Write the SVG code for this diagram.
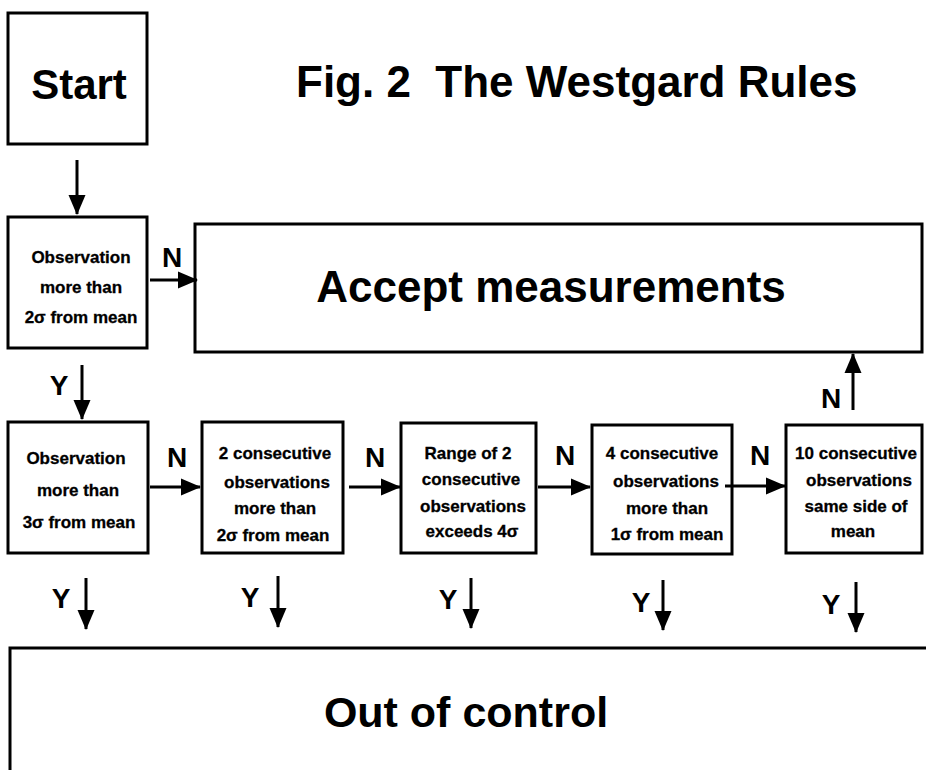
<svg xmlns="http://www.w3.org/2000/svg" width="926" height="770" viewBox="0 0 926 770">
<defs>
<marker id="ah" markerWidth="20" markerHeight="20" refX="19" refY="10" orient="auto" markerUnits="userSpaceOnUse">
<path d="M0,1.5 L20,10 L0,18.5 Z" fill="#000"/>
</marker>
<style>
.box{fill:#fff;stroke:#000;stroke-width:3}
.t{font-family:"Liberation Sans",Arial,sans-serif;font-weight:bold;fill:#000}
.big{font-size:44px;text-anchor:middle}
.sm{font-size:17px;text-anchor:middle;stroke:#000;stroke-width:0.3}
.lab{font-size:28px;text-anchor:middle}
.c{stroke:#000;stroke-width:3;fill:none;marker-end:url(#ah)}
</style>
</defs>
<rect width="926" height="770" fill="#fff"/>
<text class="t" x="296" y="97" style="font-size:44px;white-space:pre">Fig. 2  The Westgard Rules</text>
<g id="start">
<rect class="box" x="8" y="13" width="139" height="131"/>
<text class="t big" x="79" y="99" style="font-size:42px">Start</text>
</g>
<g id="obs2">
<rect class="box" x="8" y="217" width="139" height="131"/>
<text class="t sm" x="81" y="263">Observation</text>
<text class="t sm" x="81" y="293">more than</text>
<text class="t sm" x="81" y="323">2σ from mean</text>
</g>
<g id="accept">
<rect class="box" x="195" y="224" width="727" height="128"/>
<text class="t big" x="551" y="302">Accept measurements</text>
</g>
<g id="obs3">
<rect class="box" x="8" y="422" width="140" height="131"/>
<text class="t sm" x="76" y="464">Observation</text>
<text class="t sm" x="78" y="496">more than</text>
<text class="t sm" x="79" y="528">3σ from mean</text>
</g>
<g id="cons2">
<rect class="box" x="202" y="422" width="141" height="131"/>
<text class="t sm" x="275" y="459">2 consecutive</text>
<text class="t sm" x="277" y="488">observations</text>
<text class="t sm" x="275" y="514">more than</text>
<text class="t sm" x="273" y="541">2σ from mean</text>
</g>
<g id="range">
<rect class="box" x="401" y="423" width="135" height="130"/>
<text class="t sm" x="468" y="459">Range of 2</text>
<text class="t sm" x="471" y="485">consecutive</text>
<text class="t sm" x="473" y="512">observations</text>
<text class="t sm" x="472" y="537">exceeds 4σ</text>
</g>
<g id="cons4">
<rect class="box" x="592" y="425" width="140" height="129"/>
<text class="t sm" x="662" y="459">4 consecutive</text>
<text class="t sm" x="666" y="487">observations</text>
<text class="t sm" x="667" y="514">more than</text>
<text class="t sm" x="667" y="540">1σ from mean</text>
</g>
<g id="cons10">
<rect class="box" x="786" y="425" width="136" height="128"/>
<text class="t sm" x="856" y="459">10 consecutive</text>
<text class="t sm" x="859" y="486">observations</text>
<text class="t sm" x="856" y="512">same side of</text>
<text class="t sm" x="853" y="537">mean</text>
</g>
<g id="outofcontrol">
<path d="M10,770 V648 H930" fill="none" stroke="#000" stroke-width="3"/>
<text class="t big" x="466" y="727" style="font-size:43px">Out of control</text>
</g>
<g id="connectors">
<line class="c" x1="77" y1="160" x2="77" y2="214"/>
<line class="c" x1="150" y1="280" x2="197" y2="280"/>
<line class="c" x1="82" y1="365" x2="82" y2="419"/>
<line class="c" x1="150" y1="487" x2="200" y2="487"/>
<line class="c" x1="349" y1="487" x2="400" y2="487"/>
<line class="c" x1="538" y1="487" x2="590" y2="487"/>
<line class="c" x1="725" y1="486" x2="785" y2="486"/>
<line class="c" x1="853" y1="410" x2="853" y2="354"/>
<line class="c" x1="86" y1="578" x2="86" y2="629"/>
<line class="c" x1="278" y1="576" x2="278" y2="627"/>
<line class="c" x1="471" y1="578" x2="471" y2="628"/>
<line class="c" x1="663" y1="580" x2="663" y2="630"/>
<line class="c" x1="856" y1="582" x2="856" y2="632"/>
<text class="t lab" x="172" y="267">N</text>
<text class="t lab" x="59" y="395">Y</text>
<text class="t lab" x="177" y="467">N</text>
<text class="t lab" x="375" y="467">N</text>
<text class="t lab" x="565" y="465">N</text>
<text class="t lab" x="760" y="465">N</text>
<text class="t lab" x="831" y="408">N</text>
<text class="t lab" x="61" y="608">Y</text>
<text class="t lab" x="250" y="607">Y</text>
<text class="t lab" x="448" y="609">Y</text>
<text class="t lab" x="641" y="612">Y</text>
<text class="t lab" x="831" y="614">Y</text>
</g>
</svg>
